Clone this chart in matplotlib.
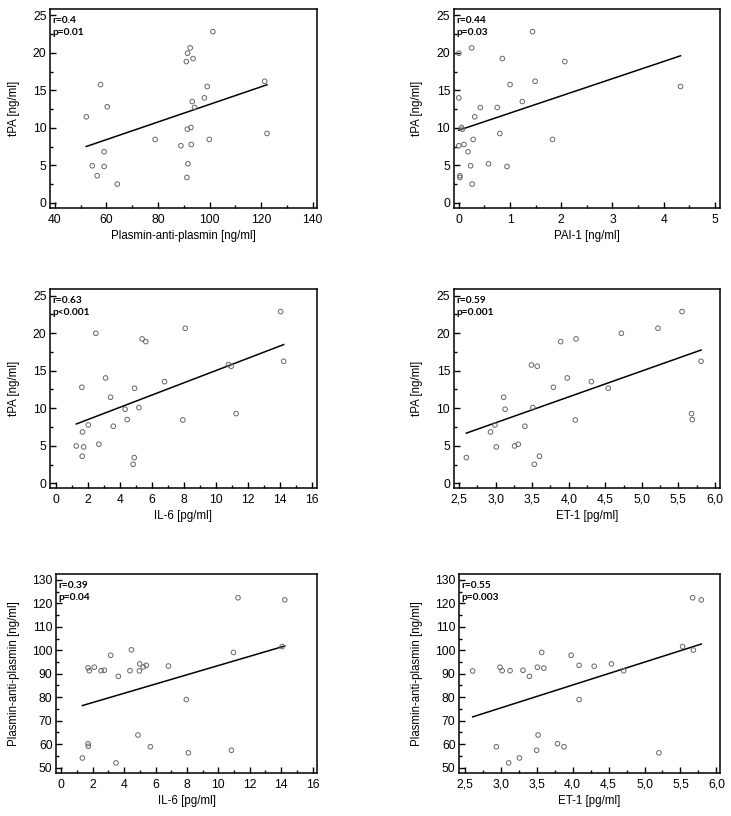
import matplotlib
matplotlib.use("Agg")
import matplotlib.pyplot as plt
import numpy as np
from matplotlib.ticker import MultipleLocator

plt.rcParams["font.family"] = ["Liberation Sans", "DejaVu Sans"]

# Panel 1: tPA vs plasmin-anti-plasmin
pap_x1 = [52.2, 57.7, 60.3, 54.5, 59.1, 59.1, 56.4, 64.2, 78.9, 88.9, 91.0, 91.5, 92.5, 93.6,
          101.3, 93.3, 94.2, 98.0, 99.1, 91.4, 92.8, 92.9, 99.9, 91.6, 91.2, 121.4, 122.3]
tpa_y1 = [11.46, 15.76, 12.8, 4.93, 6.8, 4.84, 3.6, 2.49, 8.44, 7.6, 18.83, 19.94, 20.65, 19.23,
          22.82, 13.5, 12.7, 13.99, 15.5, 9.81, 10.04, 7.77, 8.44, 5.2, 3.37, 16.2, 9.24]

# Panel 2: tPA vs PAI-1
pai_x2 = [0.0, 0.25, 0.0, 0.85, 1.44, 2.07, 1.49, 1.0, 1.24, 0.42, 0.75, 0.31, 0.05, 0.07,
          0.28, 0.80, 1.83, 0.10, 0.0, 0.18, 0.23, 0.58, 0.94, 0.02, 0.02, 0.26, 4.33]
tpa_y2 = [19.94, 20.65, 13.99, 19.23, 22.82, 18.83, 16.2, 15.76, 13.5, 12.7, 12.7, 11.46, 10.04, 9.81,
          8.44, 9.24, 8.44, 7.77, 7.6, 6.8, 4.93, 5.2, 4.84, 3.6, 3.37, 2.49, 15.5]

# Panel 3: tPA vs IL-6
il6_x3 = [1.27, 1.66, 1.73, 1.64, 1.62, 2.02, 2.49, 2.68, 3.10, 3.41, 3.58, 4.32, 4.45, 4.91,
          4.89, 4.82, 5.18, 5.38, 5.61, 6.78, 7.92, 8.07, 10.77, 10.94, 11.25, 14.03, 14.22]
tpa_y3 = [4.97, 6.84, 4.84, 3.6, 12.79, 7.77, 19.98, 5.2, 14.03, 11.46, 7.6, 9.86, 8.48, 12.66,
          3.42, 2.53, 10.08, 19.23, 18.87, 13.54, 8.44, 20.65, 15.81, 15.59, 9.28, 22.87, 16.25]

# Panel 4: tPA vs ET-1
et1_x4 = [2.60, 2.93, 2.99, 3.01, 3.11, 3.13, 3.26, 3.31, 3.40, 3.49, 3.51, 3.53, 3.57, 3.60,
          3.79, 3.89, 3.98, 4.09, 4.10, 4.31, 4.54, 4.72, 5.22, 5.55, 5.68, 5.69, 5.81]
tpa_y4 = [3.42, 6.84, 7.77, 4.84, 11.46, 9.86, 4.97, 5.2, 7.6, 15.76, 10.08, 2.53, 15.59, 3.6,
          12.79, 18.87, 14.03, 8.44, 19.23, 13.54, 12.66, 19.98, 20.65, 22.87, 9.28, 8.48, 16.25]

# Panel 5: plasmin-anti-plasmin vs IL-6
il6_x5 = [1.34, 1.70, 1.72, 1.70, 1.78, 2.10, 2.53, 2.74, 3.14, 3.63, 3.48, 4.37, 4.46, 4.97,
          4.99, 5.22, 5.41, 4.88, 5.67, 6.82, 7.96, 8.09, 10.83, 10.96, 11.25, 14.06, 14.23]
pap_y5 = [54.1, 60.2, 59.1, 92.5, 91.3, 92.8, 91.3, 91.5, 97.9, 88.9, 52.0, 91.3, 100.2, 91.2,
          94.2, 92.9, 93.6, 63.9, 58.9, 93.3, 79.0, 56.3, 57.4, 99.1, 122.4, 101.6, 121.5]

# Panel 6: plasmin-anti-plasmin vs ET-1
et1_x6 = [2.61, 2.94, 2.99, 3.02, 3.11, 3.13, 3.26, 3.31, 3.40, 3.50, 3.51, 3.52, 3.57, 3.60,
          3.79, 3.88, 3.98, 4.09, 4.09, 4.30, 4.54, 4.71, 5.20, 5.53, 5.67, 5.68, 5.79]
pap_y6 = [91.2, 58.9, 92.8, 91.3, 52.0, 91.3, 54.1, 91.5, 88.9, 57.4, 92.8, 63.9, 99.1, 92.4,
          60.2, 58.9, 97.9, 93.6, 79.0, 93.2, 94.2, 91.3, 56.3, 101.6, 122.4, 100.1, 121.5]

stats = [("r=0.4", "p=0.01"), ("r=0.44", "p=0.03"), ("r=0.63", "p<0.001"),
         ("r=0.59", "p=0.001"), ("r=0.39", "p=0.04"), ("r=0.55", "p=0.003")]

W, H = 731, 816
fig = plt.figure(figsize=(W / 100, H / 100), dpi=100)


def px_axes(left, top, right, bottom):
    return fig.add_axes([left / W, 1 - bottom / H, (right - left) / W, (bottom - top) / H])


# box = (left, top, right, bottom) in pixels, ylab_x = centre of the y label in pixels
panels = [
    dict(box=(50, 9.3, 317, 208), ylab_x=14, x=pap_x1, y=tpa_y1, xlim=(38.1, 141.7), ylim=(-0.7, 25.8),
         xmaj=20, ymaj=5, yticks=(0, 25), xlabel="Plasmin-anti-plasmin [ng/ml]", ylabel="tPA [ng/ml]", fmt=None),
    dict(box=(453.7, 9.3, 720, 208), ylab_x=416.7, x=pai_x2, y=tpa_y2, xlim=(-0.1, 5.1), ylim=(-0.7, 25.8),
         xmaj=1, ymaj=5, yticks=(0, 25), xlabel="PAI-1 [ng/ml]", ylabel="tPA [ng/ml]", fmt=None),
    dict(box=(50, 289.3, 317, 488.3), ylab_x=14, x=il6_x3, y=tpa_y3, xlim=(-0.37, 16.3), ylim=(-0.67, 25.84),
         xmaj=2, ymaj=5, yticks=(0, 25), xlabel="IL-6 [pg/ml]", ylabel="tPA [ng/ml]", fmt=None),
    dict(box=(453.7, 289.3, 720, 488.3), ylab_x=416.7, x=et1_x4, y=tpa_y4, xlim=(2.427, 6.069),
         ylim=(-0.67, 25.84), xmaj=0.5, ymaj=5, yticks=(0, 25), xlabel="ET-1 [pg/ml]",
         ylabel="tPA [ng/ml]", fmt="comma"),
    dict(box=(56, 574.3, 317.3, 773), ylab_x=14, x=il6_x5, y=pap_y5, xlim=(-0.34, 16.3), ylim=(47.7, 132.4),
         xmaj=2, ymaj=10, yticks=(50, 130), xlabel="IL-6 [pg/ml]",
         ylabel="Plasmin-anti-plasmin [ng/ml]", fmt=None),
    dict(box=(459, 574.3, 720, 773), ylab_x=416.7, x=et1_x6, y=pap_y6, xlim=(2.42, 6.05), ylim=(47.7, 132.4),
         xmaj=0.5, ymaj=10, yticks=(50, 130), xlabel="ET-1 [pg/ml]",
         ylabel="Plasmin-anti-plasmin [ng/ml]", fmt="comma"),
]

for p, (r_txt, p_txt) in zip(panels, stats):
    left, top, right, bottom = p["box"]
    w = right - left
    h = bottom - top
    ax = px_axes(left, top, right, bottom)
    x = np.array(p["x"])
    y = np.array(p["y"])
    ax.scatter(x, y, s=11, facecolors="none", edgecolors="#666666", linewidths=0.7, zorder=3)

    # least-squares line over the data range
    slope, intercept = np.polyfit(x, y, 1)
    xs = np.array([x.min(), x.max()])
    ax.plot(xs, slope * xs + intercept, color="black", linewidth=1.1, zorder=2)

    ax.set_xlim(*p["xlim"])
    ax.set_ylim(*p["ylim"])
    ax.xaxis.set_major_locator(MultipleLocator(p["xmaj"]))
    ax.xaxis.set_minor_locator(MultipleLocator(p["xmaj"] / 2))
    ax.set_yticks(np.arange(p["yticks"][0], p["yticks"][1] + 0.1, p["ymaj"]))
    ax.yaxis.set_minor_locator(MultipleLocator(p["ymaj"] / 2))
    if p["fmt"] == "comma":
        ax.xaxis.set_major_formatter(lambda v, pos: f"{v:.1f}".replace(".", ","))

    ax.tick_params(which="both", direction="in", labelsize=8.7, width=1.0)
    ax.tick_params(which="major", length=4.5)
    ax.tick_params(axis="x", which="major", pad=4)
    ax.tick_params(axis="y", which="major", pad=2.5)
    ax.tick_params(which="minor", length=2.5)
    for s in ax.spines.values():
        s.set_linewidth(1.1)

    ax.set_xlabel(p["xlabel"], fontsize=8.3)
    ax.set_ylabel(p["ylabel"], fontsize=8.3)
    ax.xaxis.set_label_coords(0.5, -22 / h)
    ax.yaxis.set_label_coords((p["ylab_x"] + 6.5 - left) / w, 0.5)

    ax.text(2.5 / w, 1 - 6.5 / h, r_txt, transform=ax.transAxes, fontsize=7.3, fontweight="bold",
            family=["Lato", "DejaVu Sans"], va="top", ha="left")
    ax.text(2.5 / w, 1 - 19 / h, p_txt, transform=ax.transAxes, fontsize=7.3, fontweight="bold",
            family=["Lato", "DejaVu Sans"], va="top", ha="left")

fig.savefig("out.png", dpi=100, facecolor="white")
